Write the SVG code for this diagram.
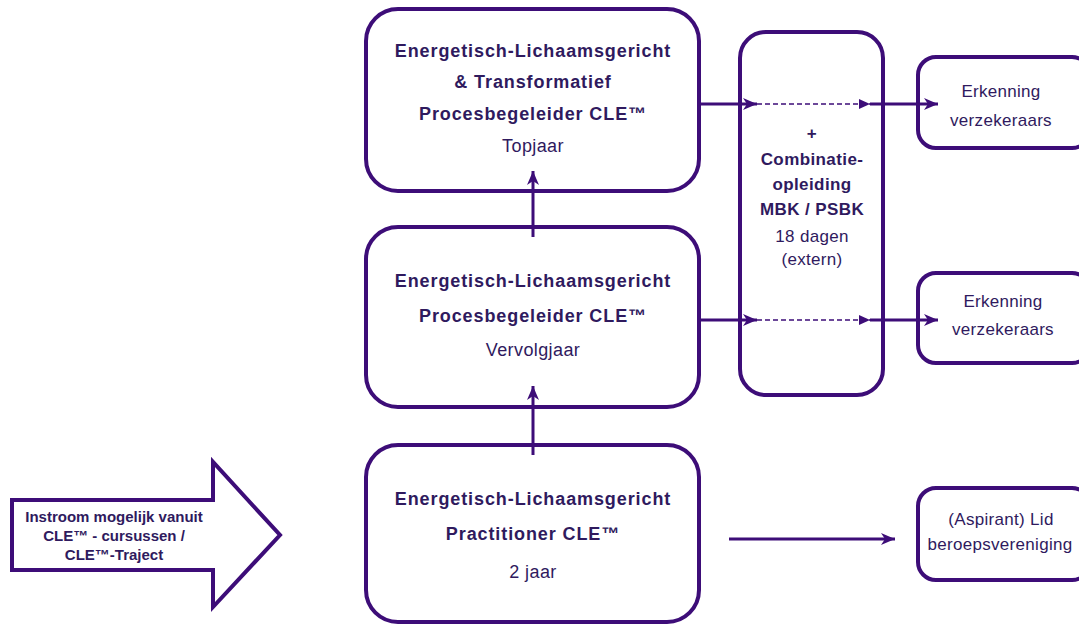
<svg xmlns="http://www.w3.org/2000/svg" width="1079" height="625" viewBox="0 0 1079 625">
<style>
.box{fill:#fff;stroke:#3d0d78;stroke-width:4}
.ln{stroke:#3d0d78;stroke-width:3;fill:none}
.dash{stroke:#3d0d78;stroke-width:1.5;stroke-dasharray:5 3;fill:none}
.b{font-family:"Liberation Sans",Arial,sans-serif;font-weight:bold;font-size:18px;letter-spacing:0.9px;fill:#2f1a5e;text-anchor:middle}
.n{font-family:"Liberation Sans",Arial,sans-serif;font-size:18px;letter-spacing:0.4px;fill:#2f1a5e;text-anchor:middle}
.mb{font-family:"Liberation Sans",Arial,sans-serif;font-weight:bold;font-size:17px;letter-spacing:0.4px;fill:#2f1a5e;text-anchor:middle}
.mn{font-family:"Liberation Sans",Arial,sans-serif;font-size:17px;letter-spacing:0.3px;fill:#2f1a5e;text-anchor:middle}
.s{font-family:"Liberation Sans",Arial,sans-serif;font-weight:bold;font-size:15px;fill:#2f1a5e;text-anchor:middle}
</style>
<defs>
<marker id="notch" markerUnits="userSpaceOnUse" markerWidth="15" markerHeight="14" viewBox="0 0 15 14" refX="14" refY="7" orient="auto">
<path d="M0,1 L14,7 L0,13 L4,7 z" fill="#3d0d78"/>
</marker>
<marker id="tri" markerUnits="userSpaceOnUse" markerWidth="12" markerHeight="12" viewBox="0 0 12 12" refX="11" refY="6" orient="auto">
<path d="M0,1 L11,6 L0,11 z" fill="#3d0d78"/>
</marker>
</defs>
<rect width="1079" height="625" fill="#fff"/>

<g id="instroom">
<polygon class="box" points="12,500 213,500 213,462 280,535 213,607 213,570 12,570"/>
<text class="s" x="114" y="522">Instroom mogelijk vanuit</text>
<text class="s" x="114" y="541">CLE™ - cursussen /</text>
<text class="s" x="114" y="560">CLE™-Traject</text>
</g>

<g id="topjaar">
<rect class="box" x="366" y="9" width="333" height="182" rx="32"/>
<text class="b" x="533" y="57">Energetisch-Lichaamsgericht</text>
<text class="b" x="533" y="88">&amp; Transformatief</text>
<text class="b" x="533" y="120">Procesbegeleider CLE™</text>
<text class="n" x="533" y="152">Topjaar</text>
</g>

<g id="vervolgjaar">
<rect class="box" x="366" y="227" width="333" height="180" rx="32"/>
<text class="b" x="533" y="287">Energetisch-Lichaamsgericht</text>
<text class="b" x="533" y="322">Procesbegeleider CLE™</text>
<text class="n" x="533" y="356">Vervolgjaar</text>
</g>

<g id="practitioner">
<rect class="box" x="366" y="445" width="333" height="177" rx="32"/>
<text class="b" x="533" y="505">Energetisch-Lichaamsgericht</text>
<text class="b" x="533" y="540">Practitioner CLE™</text>
<text class="n" x="533" y="578">2 jaar</text>
</g>

<g id="combinatie">
<rect class="box" x="740" y="32" width="143" height="363" rx="26"/>
<text class="mb" x="812" y="139">+</text>
<text class="mb" x="812" y="165">Combinatie-</text>
<text class="mb" x="812" y="190">opleiding</text>
<text class="mb" x="812" y="215">MBK / PSBK</text>
<text class="mn" x="812" y="242">18 dagen</text>
<text class="mn" x="812" y="265">(extern)</text>
</g>

<g id="erkenning1">
<rect class="box" x="918" y="57" width="172" height="91" rx="18"/>
<text class="mn" x="1001" y="97">Erkenning</text>
<text class="mn" x="1001" y="126">verzekeraars</text>
</g>

<g id="erkenning2">
<rect class="box" x="918" y="273" width="172" height="90" rx="18"/>
<text class="mn" x="1003" y="307">Erkenning</text>
<text class="mn" x="1003" y="335">verzekeraars</text>
</g>

<g id="aspirant">
<rect class="box" x="918" y="488" width="172" height="92" rx="18"/>
<text class="mn" x="1001" y="525">(Aspirant) Lid</text>
<text class="mn" x="1000" y="550">beroepsvereniging</text>
</g>

<g id="connectors">
<line class="ln" x1="700" y1="104" x2="757" y2="104" marker-end="url(#notch)"/>
<line class="dash" x1="757" y1="104" x2="870" y2="104" marker-end="url(#tri)"/>
<line class="ln" x1="870" y1="104" x2="938" y2="104" marker-end="url(#notch)"/>
<line class="ln" x1="700" y1="320" x2="757" y2="320" marker-end="url(#notch)"/>
<line class="dash" x1="757" y1="320" x2="870" y2="320" marker-end="url(#tri)"/>
<line class="ln" x1="870" y1="320" x2="938" y2="320" marker-end="url(#notch)"/>
<line class="ln" x1="729" y1="539" x2="895" y2="539" marker-end="url(#notch)"/>
<line class="ln" x1="533" y1="237" x2="533" y2="171" marker-end="url(#notch)"/>
<line class="ln" x1="533" y1="455" x2="533" y2="386" marker-end="url(#notch)"/>
</g>
</svg>
